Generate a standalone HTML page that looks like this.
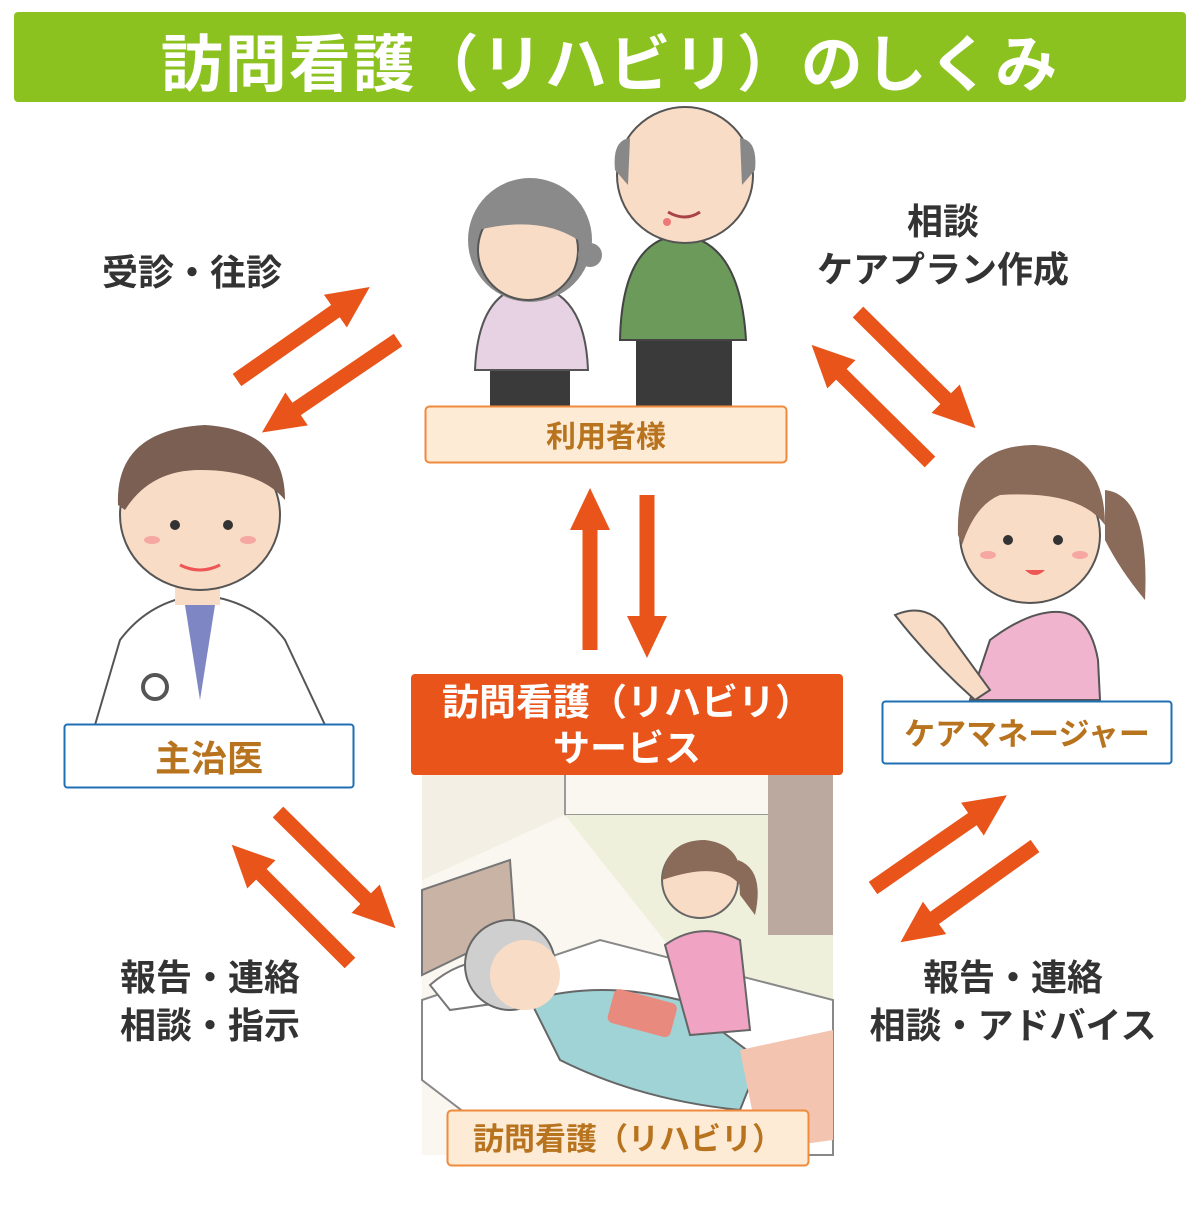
<!DOCTYPE html>
<html><head><meta charset="utf-8"><style>
html,body{margin:0;padding:0;background:#fff}
svg text{font-family:"Liberation Sans","Noto Sans CJK JP",sans-serif;font-weight:bold}
</style></head><body>
<svg width="1200" height="1200" viewBox="0 0 1200 1200" xmlns="http://www.w3.org/2000/svg">
<defs>
<marker id="ah" markerUnits="userSpaceOnUse" markerWidth="44" markerHeight="44" viewBox="0 -22 44 44" refX="2" refY="0" orient="auto">
<path d="M0,-20 L42,0 L0,20 z" fill="#e8541a"/></marker>
</defs>
<!-- title -->
<rect x="14" y="12" width="1172" height="90" rx="4" fill="#8cc220"/>
<text x="610" y="86" text-anchor="middle" font-size="62" letter-spacing="2" fill="#fff">訪問看護（リハビリ）のしくみ</text>

<!-- arrows -->
<g stroke="#e8541a" stroke-width="15" marker-end="url(#ah)" fill="none">
<line x1="237" y1="380" x2="337" y2="310"/>
<line x1="398" y1="340" x2="295" y2="410"/>
<line x1="858" y1="312" x2="947" y2="400"/>
<line x1="930" y1="462" x2="840" y2="373"/>
<line x1="590" y1="650" x2="590" y2="528"/>
<line x1="647" y1="495" x2="647" y2="618"/>
<line x1="278" y1="812" x2="367" y2="900"/>
<line x1="350" y1="963" x2="260" y2="873"/>
<line x1="873" y1="888" x2="974" y2="818"/>
<line x1="1035" y1="846" x2="933" y2="919"/>
</g>

<!-- labels text -->
<g font-size="36" fill="#333">
<text x="192" y="285" text-anchor="middle">受診・往診</text>
<text x="943" y="234" text-anchor="middle">相談</text>
<text x="943" y="282" text-anchor="middle">ケアプラン作成</text>
<text x="210" y="990" text-anchor="middle">報告・連絡</text>
<text x="210" y="1038" text-anchor="middle">相談・指示</text>
<text x="1013" y="990" text-anchor="middle">報告・連絡</text>
<text x="1013" y="1038" text-anchor="middle">相談・アドバイス</text>
</g>

<!-- elderly couple -->
<g>
<rect x="636" y="330" width="96" height="80" fill="#3a3a3a"/>
<path d="M620,340 Q622,240 680,235 Q740,240 746,340 Z" fill="#6b9a5a" stroke="#444" stroke-width="2"/>
<circle cx="685" cy="175" r="68" fill="#f9dcc6" stroke="#555" stroke-width="2"/>
<path d="M615,170 Q612,140 630,138 L628,185 Z M755,170 Q758,140 740,138 L742,185 Z" fill="#888"/>
<circle cx="667" cy="222" r="4" fill="#e77"/>
<path d="M668,212 Q685,222 700,212" stroke="#a44" stroke-width="3" fill="none"/>
<rect x="490" y="365" width="80" height="45" fill="#3a3a3a"/>
<path d="M475,370 Q478,290 530,285 Q585,290 588,370 Z" fill="#e6d2e3" stroke="#555" stroke-width="2"/>
<circle cx="530" cy="240" r="62" fill="#8a8a8a"/>
<circle cx="528" cy="250" r="50" fill="#f9dcc6" stroke="#555" stroke-width="2"/>
<path d="M478,230 Q490,180 540,188 Q585,200 578,240 Q540,215 478,230Z" fill="#8a8a8a"/>
<circle cx="590" cy="255" r="12" fill="#8a8a8a"/>
</g>
<rect x="425.5" y="406.5" width="361" height="56" rx="4" fill="#fdebd6" stroke="#f08a3c" stroke-width="2"/>
<text x="606" y="447" text-anchor="middle" font-size="30" fill="#b8731f">利用者様</text>

<!-- doctor -->
<g>
<path d="M95,725 L120,640 Q150,600 200,595 Q255,600 285,640 L325,725 Z" fill="#fff" stroke="#555" stroke-width="2"/>
<path d="M185,605 L200,700 L215,605 Z" fill="#7f86c4"/>
<circle cx="155" cy="687" r="12" fill="#fff" stroke="#555" stroke-width="4"/>
<rect x="175" y="565" width="45" height="40" fill="#f9dcc6"/>
<ellipse cx="200" cy="515" rx="80" ry="75" fill="#f9dcc6" stroke="#555" stroke-width="2"/>
<path d="M118,505 Q115,430 205,425 Q285,430 285,500 Q260,470 200,470 Q150,470 125,510 Z" fill="#7a5f52"/>
<circle cx="175" cy="525" r="5" fill="#333"/><circle cx="228" cy="525" r="5" fill="#333"/>
<path d="M180,565 Q200,575 220,565" stroke="#e55" stroke-width="3" fill="none"/>
<ellipse cx="152" cy="540" rx="8" ry="4" fill="#f5a7a0"/><ellipse cx="248" cy="540" rx="8" ry="4" fill="#f5a7a0"/>
</g>
<rect x="64.5" y="724.5" width="289" height="63" rx="3" fill="#fff" stroke="#1f6fb5" stroke-width="2"/>
<text x="209" y="771" text-anchor="middle" font-size="36" fill="#b8731f">主治医</text>

<!-- care manager -->
<g>
<path d="M970,700 L990,640 Q1030,610 1060,612 Q1090,615 1098,660 L1100,700 Z" fill="#f0b4cf" stroke="#555" stroke-width="2"/>
<path d="M895,615 Q930,600 950,635 L990,690 L975,700 Q930,660 895,615Z" fill="#f9dcc6" stroke="#555" stroke-width="2"/>
<ellipse cx="1030" cy="535" rx="70" ry="68" fill="#f9dcc6" stroke="#555" stroke-width="2"/>
<path d="M958,535 Q955,445 1035,445 Q1105,450 1105,525 Q1080,490 1000,495 Q975,505 962,545Z" fill="#8a6a58"/>
<path d="M1105,490 Q1150,495 1145,600 Q1120,570 1105,540Z" fill="#8a6a58"/>
<circle cx="1008" cy="540" r="5" fill="#333"/><circle cx="1058" cy="540" r="5" fill="#333"/>
<path d="M1025,570 Q1035,580 1045,570 Z" fill="#e55"/>
<ellipse cx="988" cy="555" rx="8" ry="4" fill="#f5a7a0"/><ellipse cx="1080" cy="555" rx="8" ry="4" fill="#f5a7a0"/>
</g>
<rect x="882.5" y="701.5" width="289" height="62" rx="3" fill="#fff" stroke="#1f6fb5" stroke-width="2"/>
<text x="1027" y="745" text-anchor="middle" font-size="31" fill="#b8731f">ケアマネージャー</text>

<!-- room scene -->
<rect x="422" y="775" width="411" height="380" fill="#faf7f0"/>
<path d="M422,775 L565,775 L565,815 L422,880 Z" fill="#f3efe4"/>
<line x1="565" y1="775" x2="565" y2="815" stroke="#999" stroke-width="2"/>
<line x1="565" y1="815" x2="833" y2="815" stroke="#999" stroke-width="2"/>
<rect x="768" y="775" width="65" height="160" fill="#bba89e"/>
<path d="M565,815 L768,815 L768,935 L833,935 L833,1000 L680,960 Z" fill="#eef0dc"/>
<path d="M422,890 L510,860 L515,930 L422,975 Z" fill="#c8b3a5" stroke="#777" stroke-width="2"/>
<path d="M422,1000 L600,940 L833,1000 L833,1155 L520,1155 L422,1080 Z" fill="#fff" stroke="#888" stroke-width="2"/>
<path d="M430,985 Q470,950 520,965 L520,1000 L450,1010Z" fill="#fff" stroke="#777" stroke-width="2"/>
<path d="M530,1000 Q600,980 680,1000 L760,1060 L740,1110 Q640,1100 560,1060Z" fill="#9fd3d6" stroke="#666" stroke-width="2"/>
<circle cx="510" cy="965" r="45" fill="#cfcfcf" stroke="#666" stroke-width="2"/>
<circle cx="525" cy="975" r="35" fill="#f9dcc6"/>
<path d="M740,1050 L833,1030 L833,1140 L760,1150Z" fill="#f3c4b0"/>
<rect x="610" y="995" width="65" height="35" rx="6" fill="#e88b7e" transform="rotate(15 640 1012)"/>
<path d="M665,945 Q700,920 740,940 L750,1030 L690,1035 Z" fill="#f0a3c2" stroke="#666" stroke-width="2"/>
<circle cx="700" cy="880" r="38" fill="#f9dcc6" stroke="#666" stroke-width="2"/>
<path d="M662,880 Q665,840 705,840 Q745,845 740,885 Q720,860 662,880Z" fill="#8a6a58"/>
<path d="M738,860 Q765,870 755,915 L740,895Z" fill="#8a6a58"/>

<rect x="411" y="674" width="432" height="101" rx="4" fill="#e8541a"/>
<text x="627" y="715" text-anchor="middle" font-size="37" fill="#fff">訪問看護（リハビリ）</text>
<text x="627" y="761" text-anchor="middle" font-size="37" fill="#fff">サービス</text>

<rect x="447.5" y="1110.5" width="361" height="55" rx="4" fill="#fdebd6" stroke="#f08a3c" stroke-width="2"/>
<text x="628" y="1150" text-anchor="middle" font-size="31" fill="#b8731f">訪問看護（リハビリ）</text>
</svg>
</body></html>
